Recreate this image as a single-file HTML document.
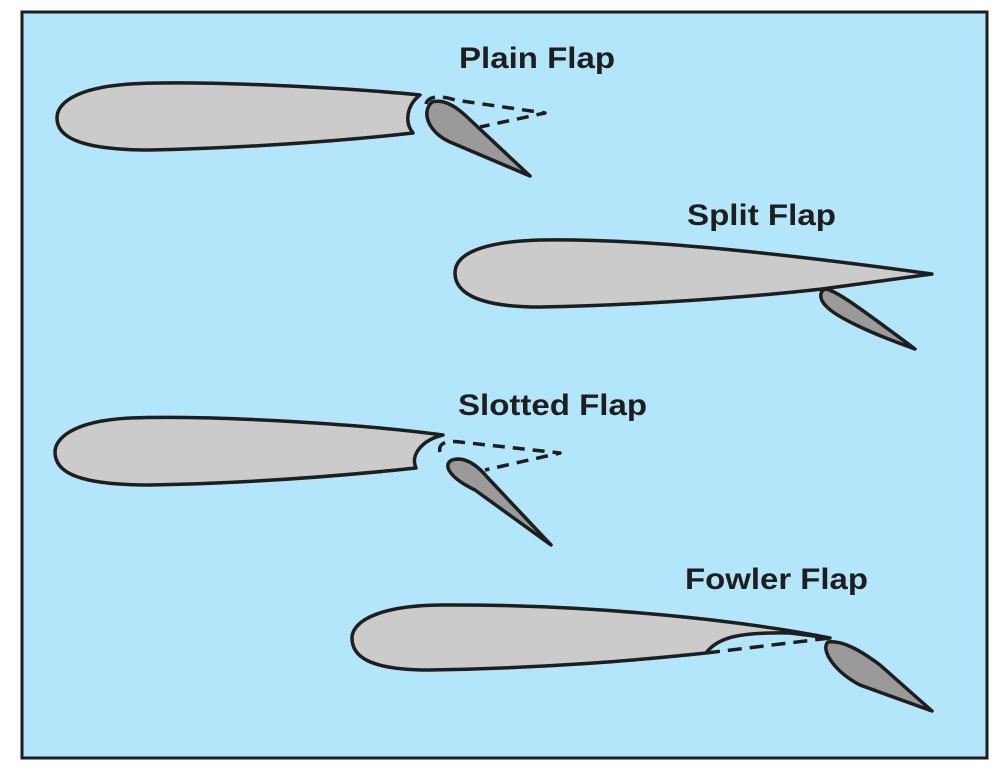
<!DOCTYPE html>
<html><head><style>html,body{margin:0;padding:0;background:#fff}svg{display:block}</style></head>
<body>
<svg width="1003" height="782" viewBox="0 0 1003 782" xmlns="http://www.w3.org/2000/svg">
<rect x="22" y="12" width="965" height="746" fill="#b3e6fa" stroke="#1e1e1e" stroke-width="3"/>
<g font-family="Liberation Sans, sans-serif" font-weight="bold" font-size="30" fill="#1e1e1e" lengthAdjust="spacingAndGlyphs">
<text x="459" y="68" textLength="156" lengthAdjust="spacingAndGlyphs">Plain Flap</text>
<text x="687" y="225" textLength="149" lengthAdjust="spacingAndGlyphs">Split Flap</text>
<text x="458" y="415" textLength="189" lengthAdjust="spacingAndGlyphs">Slotted Flap</text>
<text x="685" y="589" textLength="183" lengthAdjust="spacingAndGlyphs">Fowler Flap</text>
</g>
<g stroke="#1e1e1e" stroke-width="3.5" stroke-linejoin="round">
<!-- Plain -->
<path d="M420,95 C350,88 200,80 130,84 C72,88 57,105 57,118 C57,135 75,150 150,150 C250,148 350,140 413,133 C404,122 407,105 420,95 Z" fill="#cbcbcb"/>
<path d="M426,104 C428,96 440,95 455,100 L545,113 L480,127" fill="none" stroke-dasharray="12,8"/>
<path d="M432,102 C443,99 454,105 466,116 L530,176 L450,142 C428,132 421,112 432,102 Z" fill="#9a9a9a"/>
<!-- Split -->
<path d="M932,274 C800,256 650,238 540,240 C472,242 455,258 455,273 C455,290 472,307 540,307 C650,305 760,296 822,289 Z" fill="#cbcbcb"/>
<path d="M826,289 C836,291 852,302 915,349 C870,333 836,317 826,306 C819,299 819,291 826,289 Z" fill="#9a9a9a"/>
<!-- Slotted -->
<path d="M443,435 C370,425 220,415 130,418 C70,421 55,440 55,452 C55,470 72,485 150,485 C260,483 350,475 416,468 C410,455 422,440 443,435 Z" fill="#cbcbcb"/>
<path d="M440,452 C438,444 445,440 460,442 L560,453 L485,470" fill="none" stroke-dasharray="12,8"/>
<path d="M452,460 C465,456 478,466 488,478 L551,545 L475,490 C450,478 442,465 452,460 Z" fill="#9a9a9a"/>
<!-- Fowler -->
<path d="M830,638 C750,622 600,604 440,605 C370,606 352,625 352,638 C352,656 368,670 430,670 C550,668 640,660 706,653 C718,637 740,632 790,633 Z" fill="#cbcbcb"/>
<path d="M706,653 L830,638" fill="none" stroke-dasharray="14,8"/>
<path d="M828,642 C842,640 860,650 880,665 L932,711 L860,685 C835,672 820,650 828,642 Z" fill="#9a9a9a"/>
</g>
</svg>
</body></html>
